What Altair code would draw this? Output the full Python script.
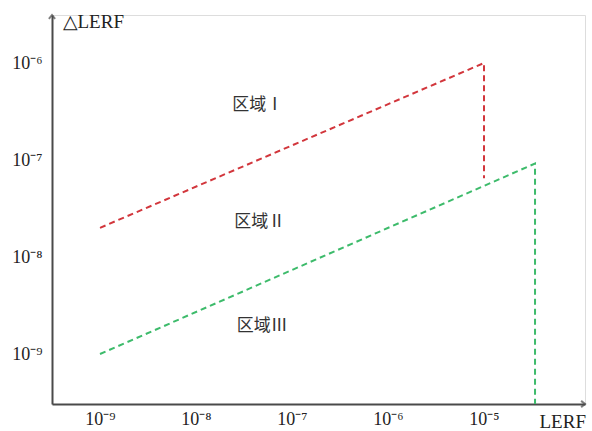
import altair as alt
import pandas as pd

# Boundary lines of the acceptance regions (LERF vs ΔLERF, log-log)
red_x = [1e-9, 1e-5, 1e-5]
red_y = [2e-8, 1e-6, 6.5e-8]
green_x = [1e-9, 3.4e-5, 3.4e-5]
green_y = [1e-9, 9.2e-8, 3.05e-10]

# Region annotations
region_text = ["区域Ⅰ", "区域Ⅱ", "区域Ⅲ"]
region_x = [4.4e-8, 4.6e-8, 4.9e-8]
region_y = [3.7e-7, 2.3e-8, 1.95e-9]

# Axis ticks and their labels
x_ticks = [1e-9, 1e-8, 1e-7, 1e-6, 1e-5]
x_tick_labels = ["10⁻⁹", "10⁻⁸", "10⁻⁷", "10⁻⁶", "10⁻⁵"]
y_ticks = [1e-9, 1e-8, 1e-7, 1e-6]
y_tick_labels = ["10⁻⁹", "10⁻⁸", "10⁻⁷", "10⁻⁶"]

X_DOMAIN = [10 ** -9.5, 10 ** -3.948]
Y_DOMAIN = [10 ** -9.515, 10 ** -5.505]

RED = "#d2363c"
GREEN = "#3dbb6b"
AXIS = "#4a4a4a"
SERIF = "Liberation Serif"


def label_expr(ticks, labels):
    expr = f"'{labels[-1]}'"
    for t, lab in reversed(list(zip(ticks[:-1], labels[:-1]))):
        expr = f"datum.value < {t * 3:g} ? '{lab}' : " + expr
    return expr


lines = pd.DataFrame(
    {
        "x": red_x + green_x,
        "y": red_y + green_y,
        "order": list(range(len(red_x))) + list(range(len(green_x))),
        "series": ["red"] * len(red_x) + ["green"] * len(green_x),
    }
)
regions = pd.DataFrame({"x": region_x, "y": region_y, "text": region_text})

x_scale = alt.Scale(type="log", domain=X_DOMAIN, nice=False)
y_scale = alt.Scale(type="log", domain=Y_DOMAIN, nice=False)

x_axis = alt.Axis(
    values=x_ticks,
    labelExpr=label_expr(x_ticks, x_tick_labels),
    ticks=False,
    grid=False,
    domainColor=AXIS,
    domainWidth=2,
    labelFont=SERIF,
    labelFontSize=18,
    labelColor="#222222",
    labelPadding=6,
    title="LERF",
    titleFont=SERIF,
    titleFontSize=19,
    titleFontWeight="normal",
    titleColor="#222222",
    titleAlign="left",
    titleBaseline="alphabetic",
    titleX=487,
    titleY=23,
)
y_axis = alt.Axis(
    values=y_ticks,
    labelExpr=label_expr(y_ticks, y_tick_labels),
    ticks=False,
    grid=False,
    domainColor=AXIS,
    domainWidth=2,
    labelFont=SERIF,
    labelFontSize=18,
    labelColor="#222222",
    labelPadding=10,
    title="△LERF",
    titleFont=SERIF,
    titleFontSize=19,
    titleFontWeight="normal",
    titleColor="#222222",
    titleAngle=0,
    titleAlign="left",
    titleBaseline="alphabetic",
    titleX=10,
    titleY=12,
)

boundary = (
    alt.Chart(lines)
    .mark_line(strokeDash=[6, 4], strokeWidth=2, clip=True)
    .encode(
        x=alt.X("x:Q", scale=x_scale, axis=x_axis),
        y=alt.Y("y:Q", scale=y_scale, axis=y_axis),
        order="order:O",
        detail="series:N",
        color=alt.Color(
            "series:N",
            scale=alt.Scale(domain=["red", "green"], range=[RED, GREEN]),
            legend=None,
        ),
    )
)

labels = (
    alt.Chart(regions)
    .mark_text(font="Noto Sans CJK SC", fontSize=17, color="#333333")
    .encode(
        x=alt.X("x:Q", scale=x_scale),
        y=alt.Y("y:Q", scale=y_scale),
        text="text:N",
    )
)

# Arrow heads at the ends of both axes
arrow_shape = "M -1 -0.8 L 0 0 L -1 0.8"
x_arrow = (
    alt.Chart(pd.DataFrame({"a": [0]}))
    .mark_point(shape=arrow_shape, filled=False, stroke=AXIS, strokeWidth=2, size=60)
    .encode(x=alt.value(533), y=alt.value(389))
)
y_arrow = (
    alt.Chart(pd.DataFrame({"a": [0]}))
    .mark_point(
        shape=arrow_shape, filled=False, stroke=AXIS, strokeWidth=2, size=60, angle=270
    )
    .encode(x=alt.value(0), y=alt.value(0))
)

chart = (
    alt.layer(boundary, labels, x_arrow, y_arrow)
    .properties(
        width=533,
        height=389,
        autosize=alt.AutoSizeParams(type="none"),
        padding={"left": 52, "top": 15, "right": 7, "bottom": 27},
    )
    .configure_view(stroke=None)
    .configure(background="white")
)

chart.save("out.html", embed_options={"renderer": "svg", "actions": False})
